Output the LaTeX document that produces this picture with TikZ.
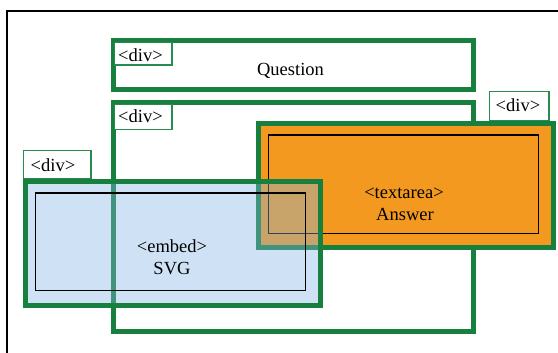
\documentclass[tikz,border=0pt]{standalone}
\usepackage{fontspec}
\setmainfont{Liberation Serif}
\definecolor{divgreen}{RGB}{24,128,62}
\definecolor{taggreen}{RGB}{40,140,80}
\definecolor{taorange}{RGB}{243,153,32}
\definecolor{svgblue}{RGB}{130,180,228}
\begin{document}
\begin{tikzpicture}[x=1pt,y=-1pt,
  divbox/.style={draw=divgreen, line width=5pt, inner sep=0pt, anchor=north west},
  tagbox/.style={draw=taggreen, line width=1.6pt, fill=white, inner sep=0pt, anchor=north west},
  innerbox/.style={draw=black, line width=1.8pt, inner sep=0pt, anchor=north west},
  lbl/.style={font=\fontsize{18.5}{21}\selectfont, inner sep=0pt, anchor=base}]
\useasboundingbox (0,0) rectangle (558,353);
% page frame
\coordinate (fbl) at (7,353);
\coordinate (ftr) at (558,11);
\draw[line width=1.2pt] (fbl) |- (ftr);
% Question div
\node[divbox, fill=white, minimum width=360pt, minimum height=49pt] (qdiv) at (110.5,38.5) {};
\node[tagbox, minimum width=57.5pt, minimum height=22.5pt] (qtag) at (113.75,41.75) {};
\node[lbl] (qtagtext) at (140.5,61.5) {\textless div\textgreater};
\node[lbl] (qtext) at (290.5,76) {Question};
% big div
\node[divbox, minimum width=360pt, minimum height=228pt] (bdiv) at (110.5,100.5) {};
\node[tagbox, minimum width=57.5pt, minimum height=25pt] (btag) at (113.75,103.75) {};
\node[lbl] (btagtext) at (140.5,123) {\textless div\textgreater};
% textarea div
\node[tagbox, minimum width=59.5pt, minimum height=29pt] (ttag) at (488.75,90.75) {};
\node[lbl] (ttagtext) at (518,111.5) {\textless div\textgreater};
\node[divbox, fill=taorange, minimum width=295pt, minimum height=123pt] (tdiv) at (255.5,121.5) {};
\node[innerbox, minimum width=270pt, minimum height=98pt] (tarea) at (267.5,134.5) {};
\node[lbl] (ttext1) at (404,199) {\textless textarea\textgreater};
\node[lbl] (ttext2) at (405,220) {Answer};
% embed div
\node[tagbox, minimum width=67.5pt, minimum height=28.5pt] (etag) at (22.75,149.75) {};
\node[lbl] (etagtext) at (53,171.5) {\textless div\textgreater};
\node[divbox, fill=svgblue, fill opacity=0.38, minimum width=295pt, minimum height=123pt] (ediv) at (22.5,179.5) {};
\node[innerbox, minimum width=270pt, minimum height=97pt] (embed) at (34.5,192.5) {};
\node[lbl] (etext1) at (172,252) {\textless embed\textgreater};
\node[lbl] (etext2) at (172,274) {SVG};
\end{tikzpicture}
\end{document}
